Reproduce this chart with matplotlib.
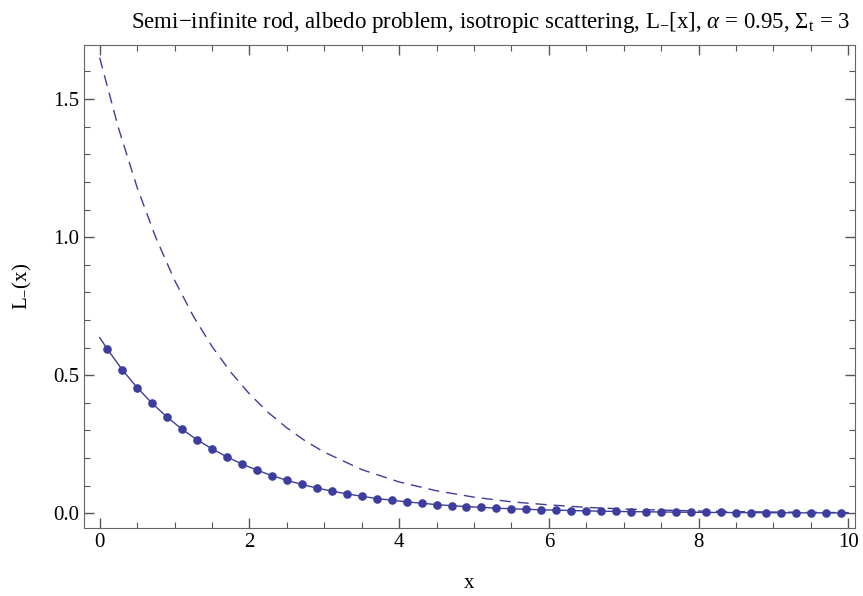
import matplotlib.pyplot as plt
from matplotlib.ticker import MultipleLocator

plt.rcParams['font.family'] = ['Liberation Serif', 'DejaVu Serif']
plt.rcParams['mathtext.fontset'] = 'custom'
plt.rcParams['mathtext.rm'] = 'Liberation Serif'
plt.rcParams['mathtext.it'] = 'Liberation Serif:italic'

# sample points (dots)
pts_x = [0.1, 0.3, 0.5, 0.7, 0.9, 1.1, 1.3, 1.5, 1.7, 1.9,
         2.1, 2.3, 2.5, 2.7, 2.9, 3.1, 3.3, 3.5, 3.7, 3.9,
         4.1, 4.3, 4.5, 4.7, 4.9, 5.1, 5.3, 5.5, 5.7, 5.9,
         6.1, 6.3, 6.5, 6.7, 6.9, 7.1, 7.3, 7.5, 7.7, 7.9,
         8.1, 8.3, 8.5, 8.7, 8.9, 9.1, 9.3, 9.5, 9.7, 9.9]
pts_y = [0.595, 0.520, 0.455, 0.398, 0.348, 0.304, 0.266, 0.233, 0.204, 0.178,
         0.156, 0.136, 0.119, 0.104, 0.091, 0.080, 0.070, 0.061, 0.053, 0.047,
         0.041, 0.036, 0.031, 0.027, 0.024, 0.021, 0.018, 0.016, 0.014, 0.012,
         0.011, 0.0094, 0.0082, 0.0071, 0.0062, 0.0055, 0.0048, 0.0042, 0.0037, 0.0032,
         0.0028, 0.0024, 0.0021, 0.0019, 0.0016, 0.0014, 0.0012, 0.0011, 0.0010, 0.0009]

# solid curve end values
solid_x0, solid_y0 = 0.0, 0.636
solid_x1, solid_y1 = 10.0, 0.0008

# dashed curve
dash_x = [0, 0.25, 0.5, 0.75, 1.0, 1.25, 1.5, 1.75, 2.0, 2.25, 2.5, 2.75, 3.0,
          3.5, 4.0, 4.5, 5.0, 5.5, 6.0, 6.5, 7.0, 7.5, 8.0, 8.5, 9.0, 9.5, 10.0]
dash_y = [1.65, 1.396, 1.180, 0.998, 0.844, 0.714, 0.604, 0.511, 0.432, 0.365, 0.309, 0.261, 0.221,
          0.158, 0.113, 0.081, 0.058, 0.041, 0.030, 0.021, 0.015, 0.011, 0.0078, 0.0056, 0.0040, 0.0029, 0.0020]

col = '#3d3d9e'

fig = plt.figure(figsize=(8.63, 5.96), dpi=100)
ax = fig.add_axes([0.0973, 0.114, 0.8934, 0.8105])

line_x = [solid_x0] + pts_x + [solid_x1]
line_y = [solid_y0] + pts_y + [solid_y1]
ax.plot(line_x, line_y, color=col, lw=1.0)
ax.plot(pts_x, pts_y, 'o', color=col, ms=6.2, mew=0)
ax.plot(dash_x, dash_y, color=col, lw=1.0, dashes=(8, 5))

ax.set_xlim(-0.21, 10.09)
ax.set_ylim(-0.054, 1.696)
ax.xaxis.set_major_locator(MultipleLocator(2))
ax.xaxis.set_minor_locator(MultipleLocator(0.5))
ax.yaxis.set_major_locator(MultipleLocator(0.5))
ax.yaxis.set_minor_locator(MultipleLocator(0.1))
ax.yaxis.set_major_formatter(plt.FormatStrFormatter('%.1f'))
ax.tick_params(which='both', direction='in', top=True, right=True, labelsize=15, color='#555555')
ax.tick_params(which='major', length=7, width=1)
ax.tick_params(which='minor', length=4, width=0.8)
for s in ax.spines.values():
    s.set_color('#666666')

ax.set_xlabel('x', fontsize=15, labelpad=16)
ax.set_ylabel(r'L$_{-}$(x)', fontsize=15, labelpad=14)
ax.set_title(r'Semi$-$infinite rod, albedo problem, isotropic scattering, L$_{-}$[x], $\alpha$ = 0.95, $\Sigma_{\rm t}$ = 3',
             fontsize=16.5, pad=12, x=0.528)

fig.savefig('out.png', dpi=100)
